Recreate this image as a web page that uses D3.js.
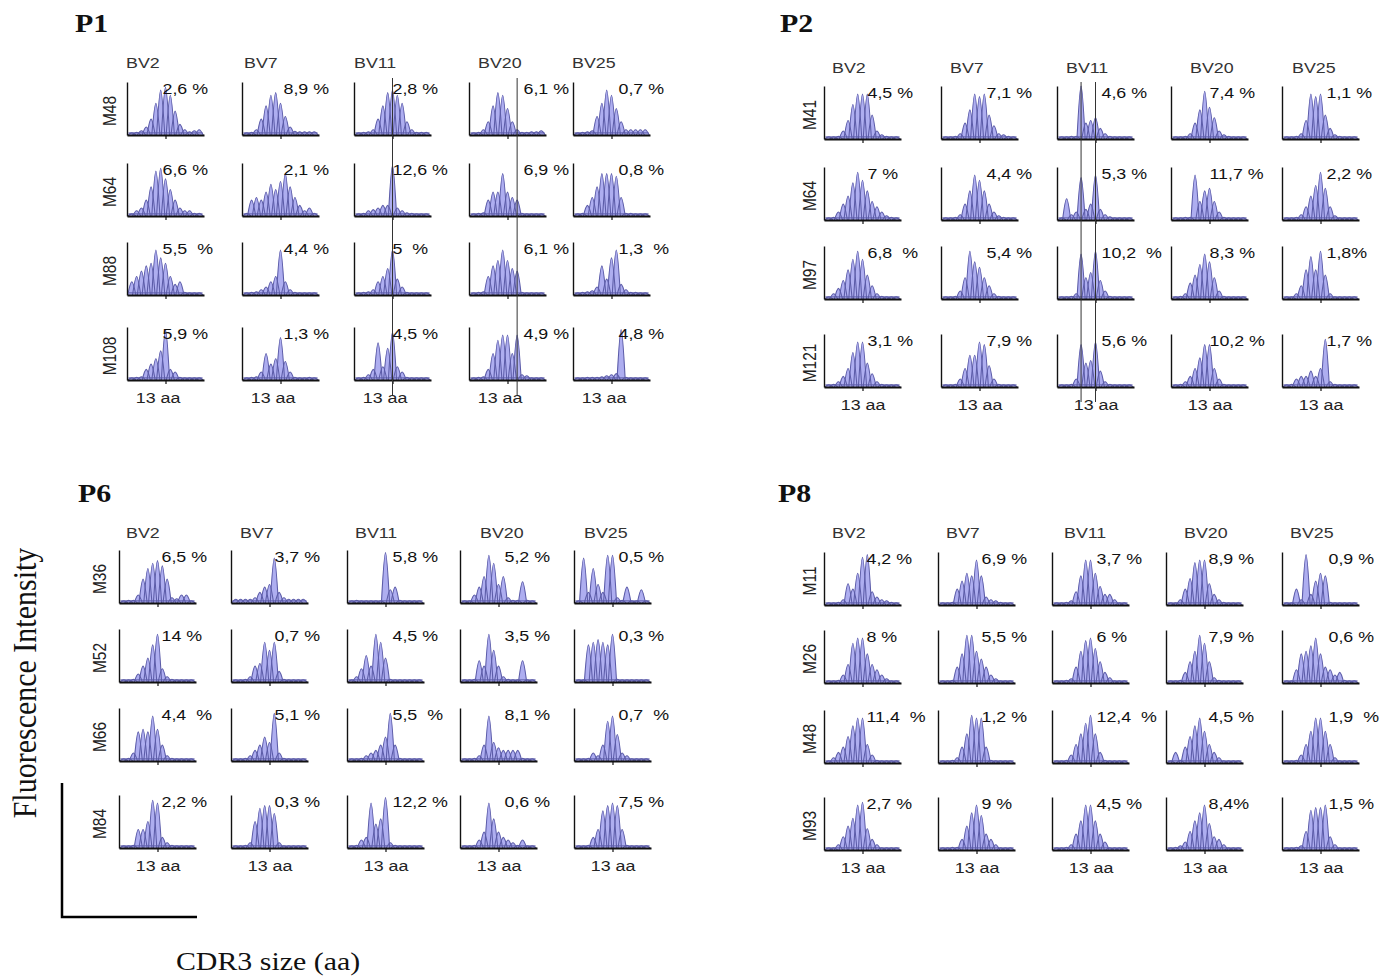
<!DOCTYPE html>
<html>
<head>
<meta charset="utf-8">
<script src="https://cdn.jsdelivr.net/npm/d3@7"></script>
<style>
  body { margin: 0; background: #fff; }
  svg text { white-space: pre; }
</style>
</head>
<body>
<svg id="chart" width="1380" height="980"></svg>
<script>
// CDR3 lengths (aa) at which spectratype peaks are read
const cdr3Lengths = [6, 7, 8, 9, 10, 11, 12, 13, 14, 15, 16, 17, 18, 19, 20];
const families = ["BV2", "BV7", "BV11", "BV20", "BV25"];
const baselineLevel = 0.04;

// ---- P1 ----
const samplesP1 = ["M48", "M64", "M88", "M108"];
const pctP1 = [
  ["2,6 %", "8,9 %", "2,8 %", "6,1 %", "0,7 %"],
  ["6,6 %", "2,1 %", "12,6 %", "6,9 %", "0,8 %"],
  ["5,5  %", "4,4 %", "5  %", "6,1 %", "1,3  %"],
  ["5,9 %", "1,3 %", "4,5 %", "4,9 %", "4,8 %"]
];
const peaksP1 = [
  [[.04,.05,.08,.15,.3,.6,.85,.9,.75,.45,.2,.1,.06,.08,.1],
   [.04,.05,.1,.3,.55,.75,.8,.6,.35,.15,.07,.06,.06,.06,.06],
   [.04,.05,.06,.1,.3,.55,.8,.85,.75,.6,.25,.1,.05,.05,.05],
   [.04,.05,.1,.25,.55,.8,.75,.5,.25,.1,.05,.05,.06,.06,.08],
   [.04,.05,.06,.08,.35,.6,.85,.75,.5,.25,.1,.1,.1,.1,.1]],
  [[.04,.1,.15,.3,.55,.85,.9,.7,.5,.3,.15,.1,.1,.05,.05],
   [.05,.3,.35,.3,.45,.6,.5,.65,.8,.55,.35,.2,.1,.15,.05],
   [.04,.05,.1,.12,.15,.2,.2,.95,.15,.1,.06,.05,.04,.04,.04],
   [.04,.05,.06,.3,.45,.45,.8,.45,.35,.3,.05,.04,.04,.04,.04],
   [.04,.05,.2,.35,.55,.8,.8,.8,.75,.35,.05,.05,.04,.04,.04]],
  [[.25,.35,.45,.55,.6,.85,.7,.6,.35,.2,.25,.05,.04,.04,.04],
   [.04,.05,.06,.1,.15,.25,.35,.85,.25,.1,.05,.04,.04,.04,.04],
   [.04,.05,.06,.1,.25,.35,.5,.85,.3,.15,.05,.04,.04,.04,.04],
   [.04,.05,.06,.35,.55,.65,.85,.65,.5,.45,.05,.04,.04,.04,.04],
   [.04,.05,.06,.08,.15,.55,.3,.7,.85,.2,.1,.05,.05,.04,.04]],
  [[.04,.05,.06,.2,.3,.4,.55,.95,.2,.15,.05,.04,.04,.04,.04],
   [.04,.05,.06,.15,.5,.3,.4,.8,.35,.15,.05,.04,.04,.05,.04],
   [.04,.05,.1,.2,.7,.25,.6,.9,.25,.15,.05,.04,.04,.04,.04],
   [.04,.05,.06,.2,.5,.75,.85,.85,.5,.85,.1,.08,.04,.04,.04],
   [.04,.04,.05,.05,.05,.06,.08,.1,.12,.95,.05,.04,.04,.04,.04]]
];

// ---- P2 ----
const samplesP2 = ["M41", "M64", "M97", "M121"];
const pctP2 = [
  ["4,5 %", "7,1 %", "4,6 %", "7,4 %", "1,1 %"],
  ["7 %", "4,4 %", "5,3 %", "11,7 %", "2,2 %"],
  ["6,8  %", "5,4 %", "10,2  %", "8,3 %", "1,8%"],
  ["3,1 %", "7,9 %", "5,6 %", "10,2 %", "1,7 %"]
];
const peaksP2 = [
  [[.04,.04,.05,.15,.35,.65,.85,.85,.85,.45,.15,.08,.05,.04,.04],
   [.04,.04,.05,.1,.3,.55,.85,.8,.85,.45,.25,.1,.08,.05,.04],
   [.04,.04,.05,.05,1.0,.3,.35,.4,.2,.1,.05,.04,.04,.04,.04],
   [.04,.04,.05,.1,.3,.55,.9,.6,.4,.15,.08,.05,.04,.04,.04],
   [.04,.04,.05,.1,.35,.85,.8,.85,.45,.2,.08,.05,.04,.04,.04]],
  [[.04,.05,.15,.3,.45,.7,.9,.75,.55,.35,.25,.15,.08,.05,.04],
   [.04,.04,.05,.1,.3,.55,.85,.75,.55,.3,.15,.08,.05,.04,.04],
   [.04,.4,.1,.15,.8,.2,.3,.85,.2,.1,.06,.04,.04,.04,.04],
   [.04,.04,.05,.05,.85,.35,.55,.6,.35,.15,.05,.04,.04,.04,.04],
   [.04,.04,.05,.1,.25,.45,.65,.9,.6,.25,.08,.04,.04,.04,.04]],
  [[.04,.1,.2,.35,.55,.75,.9,.75,.45,.25,.1,.05,.04,.04,.04],
   [.04,.04,.05,.15,.4,.9,.7,.6,.4,.25,.1,.05,.04,.04,.04],
   [.04,.04,.05,.1,.85,.4,.5,.9,.35,.15,.05,.04,.04,.04,.04],
   [.04,.05,.1,.3,.45,.65,.85,.7,.4,.15,.05,.04,.04,.04,.04],
   [.04,.04,.1,.25,.55,.8,.55,.9,.45,.1,.04,.04,.04,.04,.04]],
  [[.04,.05,.1,.2,.35,.65,.85,.85,.45,.25,.1,.05,.04,.04,.04],
   [.04,.04,.05,.15,.35,.6,.6,.85,.8,.4,.15,.05,.04,.04,.04],
   [.04,.04,.05,.15,.8,.45,.5,.85,.3,.1,.05,.04,.04,.04,.04],
   [.04,.05,.1,.2,.35,.55,.8,.8,.35,.15,.05,.04,.04,.04,.04],
   [.04,.05,.15,.2,.2,.3,.2,.35,.9,.1,.05,.04,.04,.04,.04]]
];

// ---- P6 ----
const samplesP6 = ["M36", "M52", "M66", "M84"];
const pctP6 = [
  ["6,5 %", "3,7 %", "5,8 %", "5,2 %", "0,5 %"],
  ["14 %", "0,7 %", "4,5 %", "3,5 %", "0,3 %"],
  ["4,4  %", "5,1 %", "5,5  %", "8,1 %", "0,7  %"],
  ["2,2 %", "0,3 %", "12,2 %", "0,6 %", "7,5 %"]
];
const peaksP6 = [
  [[.04,.05,.05,.15,.45,.65,.75,.8,.7,.45,.1,.08,.15,.15,.04],
   [.07,.07,.07,.07,.1,.2,.3,.35,.85,.2,.1,.07,.07,.07,.07],
   [.04,.05,.04,.04,.04,.04,.04,.95,.25,.3,.05,.04,.04,.04,.04],
   [.04,.04,.15,.3,.5,.9,.75,.35,.5,.1,.05,.05,.4,.05,.04],
   [.04,.85,.2,.65,.35,.2,.9,.9,.1,.05,.3,.04,.04,.25,.04]],
  [[.04,.04,.05,.15,.3,.45,.7,.9,.25,.1,.05,.04,.04,.04,.04],
   [.04,.04,.05,.1,.3,.35,.75,.6,.75,.2,.05,.04,.04,.04,.04],
   [.04,.1,.25,.5,.3,.9,.75,.45,.05,.04,.04,.04,.04,.04,.04],
   [.04,.04,.05,.4,.3,.9,.6,.3,.1,.05,.04,.04,.4,.04,.04],
   [.04,.04,.7,.75,.8,.75,.7,.9,.05,.04,.04,.04,.04,.04,.04]],
  [[.04,.05,.15,.55,.6,.55,.85,.6,.3,.1,.05,.04,.04,.04,.04],
   [.04,.04,.05,.1,.2,.3,.45,.35,.9,.15,.05,.04,.04,.04,.04],
   [.04,.04,.05,.1,.15,.2,.3,.45,.9,.3,.05,.04,.04,.04,.04],
   [.04,.04,.05,.1,.3,.85,.35,.25,.2,.2,.2,.2,.05,.04,.04],
   [.04,.04,.05,.15,.1,.3,.75,.85,.5,.15,.1,.04,.04,.04,.04]],
  [[.04,.04,.05,.35,.35,.5,.9,.85,.2,.1,.05,.04,.04,.04,.04],
   [.04,.04,.05,.1,.5,.75,.8,.8,.65,.1,.04,.04,.04,.04,.04],
   [.04,.05,.15,.2,.85,.45,.55,.95,.1,.05,.04,.04,.04,.04,.04],
   [.04,.04,.05,.15,.3,.85,.55,.3,.2,.15,.1,.05,.15,.04,.04],
   [.04,.04,.05,.2,.35,.7,.8,.85,.8,.35,.05,.04,.04,.04,.04]]
];

// ---- P8 ----
const samplesP8 = ["M11", "M26", "M48", "M93"];
const pctP8 = [
  ["4,2 %", "6,9 %", "3,7 %", "8,9 %", "0,9 %"],
  ["8 %", "5,5 %", "6 %", "7,9 %", "0,6 %"],
  ["11,4  %", "1,2 %", "12,4  %", "4,5 %", "1,9  %"],
  ["2,7 %", "9 %", "4,5 %", "8,4%", "1,5 %"]
];
const peaksP8 = [
  [[.04,.04,.05,.1,.4,.3,.6,.9,.95,.25,.15,.1,.08,.05,.04],
   [.04,.04,.05,.3,.45,.6,.55,.85,.55,.15,.1,.08,.05,.04,.04],
   [.04,.04,.05,.08,.25,.55,.85,.85,.6,.35,.2,.2,.1,.04,.04],
   [.04,.04,.1,.3,.5,.8,.85,.85,.4,.2,.1,.05,.04,.04,.04],
   [.04,.04,.3,.1,.95,.2,.45,.6,.55,.05,.04,.04,.04,.04,.04]],
  [[.04,.04,.05,.15,.35,.75,.85,.85,.55,.35,.25,.15,.08,.04,.04],
   [.04,.04,.05,.3,.55,.9,.9,.6,.45,.3,.15,.08,.04,.04,.04],
   [.04,.04,.05,.08,.3,.6,.8,.85,.65,.4,.2,.1,.04,.04,.04],
   [.04,.04,.05,.2,.4,.6,.9,.75,.4,.1,.05,.04,.04,.04,.04],
   [.04,.04,.25,.55,.6,.7,.85,.55,.3,.25,.15,.2,.05,.04,.04]],
  [[.04,.1,.2,.3,.5,.7,.85,.85,.35,.15,.05,.04,.04,.04,.04],
   [.04,.04,.05,.1,.3,.55,.9,.85,.85,.3,.05,.04,.04,.04,.04],
   [.04,.04,.05,.15,.35,.55,.75,.9,.55,.2,.05,.04,.04,.04,.04],
   [.04,.2,.05,.3,.5,.7,.85,.6,.35,.2,.1,.04,.04,.04,.04],
   [.04,.04,.05,.15,.35,.6,.85,.85,.6,.35,.1,.04,.04,.04,.04]],
  [[.04,.04,.1,.25,.45,.6,.85,.9,.4,.2,.1,.04,.04,.04,.04],
   [.04,.04,.05,.05,.2,.45,.7,.85,.65,.3,.2,.1,.04,.04,.04],
   [.04,.04,.05,.1,.3,.55,.85,.85,.55,.3,.15,.04,.04,.04,.04],
   [.04,.05,.08,.15,.35,.55,.7,.85,.5,.25,.2,.1,.04,.04,.04],
   [.04,.04,.05,.08,.35,.75,.8,.8,.85,.25,.1,.04,.04,.04,.04]]
];

// Reference CDR3 lengths marked by vertical guide lines
const guideLines = [
  { panel: "P1", family: "BV11", cdr3: 13 },
  { panel: "P1", family: "BV20", cdr3: 15 },
  { panel: "P2", family: "BV11", cdr3: 10 },
  { panel: "P2", family: "BV11", cdr3: 13 }
];

// ---- page layout ----
const plotW = 77, plotH = 53;
const layout = {
  P1: { title: [75, 32], colX: [127, 242, 354, 469, 573], rowBase: [135, 216, 295, 380],
        headerX: [126, 244, 354, 478, 572], headerY: 62, rowLabelX: 110,
        labelDx: [-3, 3, 0, 16, 7], tickLabelDx: -8 },
  P2: { title: [780, 32], colX: [824, 941, 1057, 1171, 1282], rowBase: [139, 220, 299, 387],
        headerX: [832, 950, 1066, 1190, 1292], headerY: 67, rowLabelX: 810,
        labelDx: [5, 7, 6, 0, 6], tickLabelDx: 0 },
  P6: { title: [78, 502], colX: [119, 231, 347, 460, 574], rowBase: [603, 682, 761, 848],
        headerX: [126, 240, 355, 480, 584], headerY: 532, rowLabelX: 100,
        labelDx: [4, 5, 7, 6, 6], tickLabelDx: 0 },
  P8: { title: [778, 502], colX: [824, 938, 1052, 1166, 1282], rowBase: [605, 683, 763, 850],
        headerX: [832, 946, 1064, 1184, 1290], headerY: 532, rowLabelX: 810,
        labelDx: [4, 5, 6, 4, 8], tickLabelDx: 0 }
};

const panels = [
  { name: "P1", samples: samplesP1, peaks: peaksP1, pct: pctP1 },
  { name: "P2", samples: samplesP2, peaks: peaksP2, pct: pctP2 },
  { name: "P6", samples: samplesP6, peaks: peaksP6, pct: pctP6 },
  { name: "P8", samples: samplesP8, peaks: peaksP8, pct: pctP8 }
];

const STRETCH = 1.15;
const sans = "'Liberation Sans', Arial, sans-serif";
const serif = "'Liberation Serif', 'Times New Roman', serif";
const fillColor = "#aeaef0";
const lineColor = "#5c5ca8";

const svg = d3.select("#chart");
svg.append("rect").attr("width", 1380).attr("height", 980).attr("fill", "#fff");

function stretchedText(g, x, y, str) {
  return g.append("text")
    .attr("transform", `translate(${x},${y}) scale(${STRETCH},1)`)
    .text(str);
}

// half-width of each peak, in aa
const halfWidth = 0.85;

panels.forEach(p => {
  const L = layout[p.name];
  const pg = svg.append("g").attr("class", "panel-" + p.name);

  stretchedText(pg, L.title[0], L.title[1], p.name)
    .attr("font-family", serif).attr("font-weight", "bold")
    .attr("font-size", 26).attr("fill", "#111");

  families.forEach((f, c) => {
    stretchedText(pg, L.headerX[c], L.headerY + 5.5, f)
      .attr("font-family", sans).attr("font-size", 15.5).attr("fill", "#333");
  });

  p.samples.forEach((s, r) => {
    const base = L.rowBase[r];
    pg.append("text")
      .attr("transform", `translate(${L.rowLabelX + 6},${base - 24}) scale(${STRETCH},1) rotate(-90)`)
      .attr("text-anchor", "middle")
      .attr("font-family", sans).attr("font-size", 15.5).attr("fill", "#222")
      .text(s);

    families.forEach((f, c) => {
      const x0 = L.colX[c];
      const x = d3.scaleLinear().domain([5, 21]).range([x0, x0 + plotW]);
      const y = d3.scaleLinear().domain([0, 1]).range([base, base - plotH]);
      const g = pg.append("g");
      const heights = p.peaks[r][c];
      const spikes = cdr3Lengths.map((len, i) => [
        [len - halfWidth, 0], [len, heights[i]], [len + halfWidth, 0]
      ]);

      const area = d3.area().curve(d3.curveMonotoneX)
        .x(d => x(d[0])).y0(y(0)).y1(d => y(d[1]));
      const line = d3.line().curve(d3.curveMonotoneX)
        .x(d => x(d[0])).y(d => y(d[1]));

      g.append("g").selectAll("path").data(spikes).join("path")
        .attr("d", area).attr("fill", fillColor).attr("stroke", "none");

      g.append("line")
        .attr("x1", x(5.3)).attr("x2", x(20.7))
        .attr("y1", y(baselineLevel)).attr("y2", y(baselineLevel))
        .attr("stroke", lineColor).attr("stroke-width", 1);

      g.append("g").selectAll("path").data(spikes).join("path")
        .attr("d", line).attr("fill", "none")
        .attr("stroke", lineColor).attr("stroke-width", 1.1)
        .attr("stroke-linejoin", "round");

      // axes
      const yAxis = g.append("g").attr("transform", `translate(${x0},0)`)
        .call(d3.axisLeft(y).tickValues([]).tickSizeOuter(0));
      yAxis.select(".domain").attr("stroke", "#111").attr("stroke-width", 1.4);

      const isLast = r === p.samples.length - 1;
      const xAxis = g.append("g").attr("transform", `translate(0,${base})`)
        .call(d3.axisBottom(x).tickValues([13]).tickSize(4).tickSizeOuter(0)
          .tickFormat(d => isLast ? d + " aa" : ""));
      xAxis.select(".domain").attr("stroke", "#111").attr("stroke-width", 2);
      xAxis.selectAll(".tick line").attr("stroke", "#111").attr("stroke-width", 1.2);
      xAxis.selectAll(".tick text")
        .attr("font-family", sans).attr("font-size", 15.5).attr("fill", "#222")
        .attr("y", 0).attr("dy", 0)
        .attr("transform", `translate(${L.tickLabelDx},23) scale(${STRETCH},1)`);

      stretchedText(g, x(13) + L.labelDx[c], base - plotH + 12, p.pct[r][c])
        .attr("font-family", sans).attr("font-size", 15.5).attr("fill", "#111");
    });
  });
});

// vertical guide lines across a column of a panel
guideLines.forEach(gl => {
  const L = layout[gl.panel];
  const c = families.indexOf(gl.family);
  const x0 = L.colX[c];
  const x = d3.scaleLinear().domain([5, 21]).range([x0, x0 + plotW]);
  svg.append("line")
    .attr("x1", x(gl.cdr3)).attr("x2", x(gl.cdr3))
    .attr("y1", L.rowBase[0] - plotH - 4).attr("y2", L.rowBase[3] + 15)
    .attr("stroke", "#333").attr("stroke-width", 1);
});

// global axis key
svg.append("path")
  .attr("d", "M62,783 V917 H197")
  .attr("fill", "none").attr("stroke", "#000").attr("stroke-width", 2.5);

svg.append("text")
  .attr("transform", `translate(36,683) scale(${STRETCH},1) rotate(-90)`)
  .attr("text-anchor", "middle")
  .attr("font-family", serif).attr("font-size", 30).attr("fill", "#111")
  .text("Fluorescence Intensity");

svg.append("text")
  .attr("transform", `translate(268,970) scale(${STRETCH},1)`)
  .attr("text-anchor", "middle")
  .attr("font-family", serif).attr("font-size", 26).attr("fill", "#111")
  .text("CDR3 size (aa)");
</script>
</body>
</html>
